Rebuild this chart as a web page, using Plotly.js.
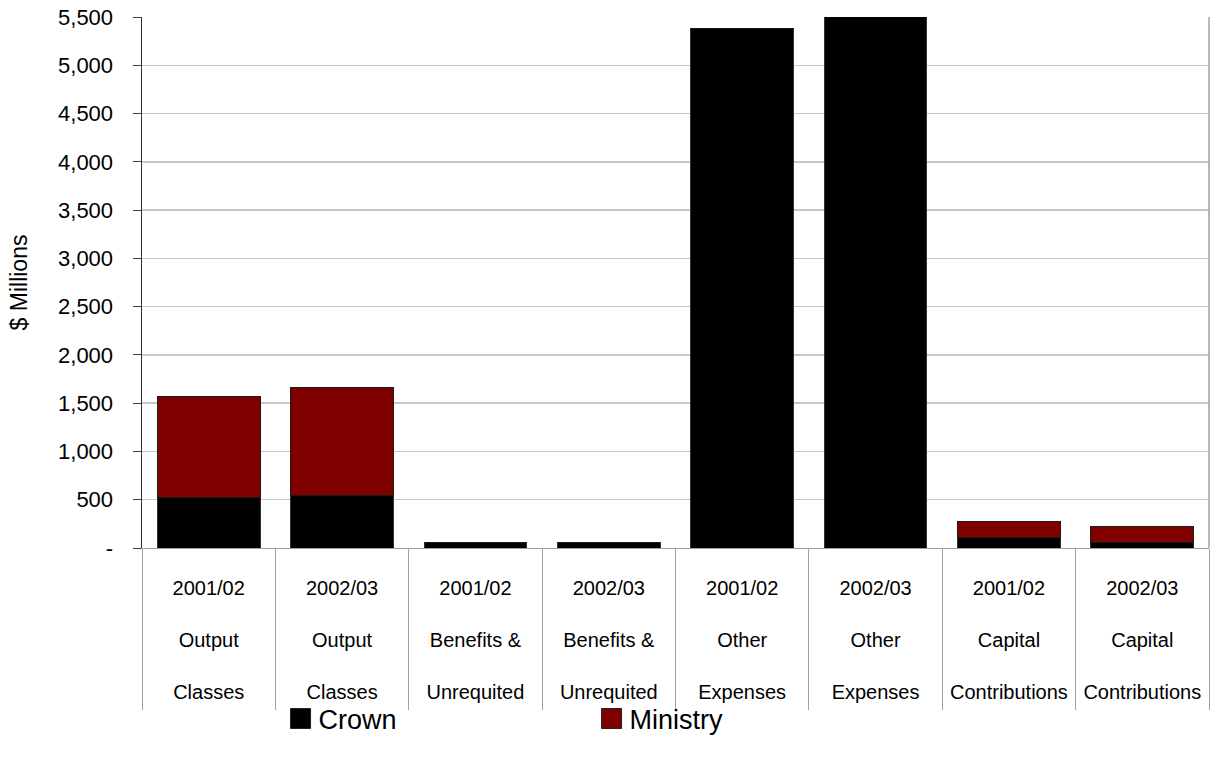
<!DOCTYPE html>
<html>
<head>
<meta charset="utf-8">
<script src="https://cdn.plot.ly/plotly-3.0.1.min.js"></script>
<style>html,body{margin:0;padding:0;background:#fff;}#chart{width:1212px;height:765px;}</style>
</head>
<body>
<div id="chart"></div>
<script>
// ---- data ----
const periods = ["2001/02", "2002/03", "2001/02", "2002/03", "2001/02", "2002/03", "2001/02", "2002/03"];
const groupLine1 = ["Output", "Output", "Benefits &", "Benefits &", "Other", "Other", "Capital", "Capital"];
const groupLine2 = ["Classes", "Classes", "Unrequited", "Unrequited", "Expenses", "Expenses", "Contributions", "Contributions"];
const crown = [525, 549, 52, 62, 5380, 5528, 111, 62];
const ministry = [1041, 1118, 0, 0, 0, 0, 161, 158];
const yTickVals = [0, 500, 1000, 1500, 2000, 2500, 3000, 3500, 4000, 4500, 5000, 5500];
const yTickText = ["-", "500", "1,000", "1,500", "2,000", "2,500", "3,000", "3,500", "4,000", "4,500", "5,000", "5,500"];

// category labels built from the arrays above (three text rows per bar)
const categories = periods.map((p, i) => p + "<br> <br>" + groupLine1[i] + "<br> <br>" + groupLine2[i]);

const FONT = "Liberation Sans, Arial, sans-serif";

const traces = [
  {
    type: "bar", name: "Crown", x: categories, y: crown,
    marker: {color: "#000000", line: {color: "#333333", width: 1}},
    width: 0.77, hoverinfo: "y"
  },
  {
    type: "bar", name: "Ministry", x: categories, y: ministry,
    marker: {color: "#800000", line: {color: "#1a1a1a", width: 1}},
    width: 0.77, hoverinfo: "y"
  }
];

const layout = {
  width: 1212, height: 765,
  barmode: "stack",
  paper_bgcolor: "#ffffff", plot_bgcolor: "#ffffff",
  margin: {l: 142, r: 3, t: 17, b: 217},
  font: {family: FONT, color: "#000000"},
  showlegend: true,
  legend: {
    orientation: "h", x: 0.128, xanchor: "left", y: -0.322, yanchor: "middle",
    font: {family: FONT, size: 27, color: "#000"}, entrywidth: 266, entrywidthmode: "pixels",
    traceorder: "normal", bgcolor: "rgba(0,0,0,0)"
  },
  xaxis: {
    type: "category", categoryorder: "array", categoryarray: categories,
    tickson: "boundaries",
    ticks: "outside", ticklen: 161, tickcolor: "#a0a0a0", tickwidth: 1,
    showgrid: false, zeroline: false,
    showline: true, linecolor: "#a0a0a0", linewidth: 1,
    tickfont: {family: FONT, size: 20, color: "#000"},
    ticklabelstandoff: 22, fixedrange: true
  },
  yaxis: {
    range: [0, 5500], tickmode: "array", tickvals: yTickVals, ticktext: yTickText,
    ticks: "outside", ticklen: 8, tickcolor: "#404040", tickwidth: 1,
    showline: true, linecolor: "#303030", linewidth: 1.5,
    showgrid: true, gridcolor: "#c8c8c8", gridwidth: 1.5, zeroline: false,
    tickfont: {family: FONT, size: 22, color: "#000"},
    ticklabelstandoff: 15,
    title: {text: "$ Millions", font: {family: FONT, size: 23, color: "#000"}, standoff: 24},
    fixedrange: true
  },
  shapes: [
    {type: "line", xref: "paper", yref: "paper", x0: 1, x1: 1, y0: 0, y1: 1,
     line: {color: "#a0a0a0", width: 1.5}}
  ]
};

Plotly.newPlot("chart", traces, layout, {displayModeBar: false, staticPlot: true}).then(function () {
  document.querySelectorAll(".legendpoints path").forEach(function (p) {
    p.setAttribute("d", "M12,10H-8V-10H12Z");
    p.style.strokeWidth = "1px";
    p.style.stroke = "#222";
  });
});
</script>
</body>
</html>
